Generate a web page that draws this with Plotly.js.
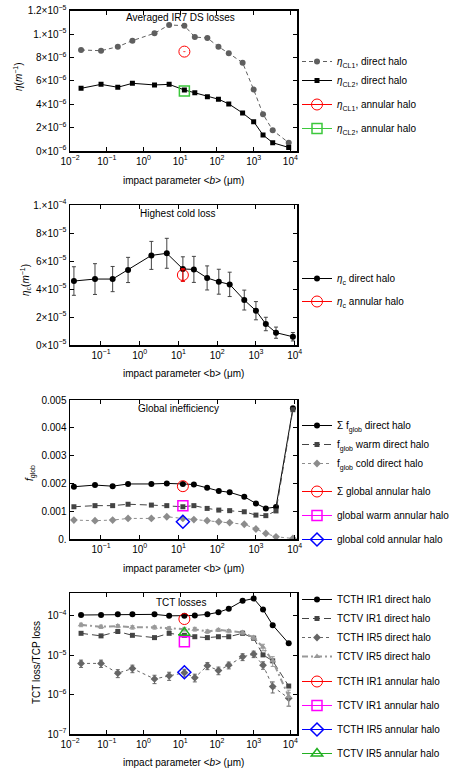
<!DOCTYPE html>
<html>
<head>
<meta charset="utf-8">
<script src="https://cdn.plot.ly/plotly-3.0.1.min.js"></script>
<style>
  html, body { margin: 0; padding: 0; background: white; }
</style>
</head>
<body>
<div id="myDiv1"></div>
<script>
// impact parameter values (um), same for every direct-halo scan
var impactParam = [0.02, 0.07, 0.2, 0.5, 2, 5, 13, 25, 55, 110, 210, 500, 1000, 1800, 3300, 9000];
var annularB = [13];

// PLOT 1 - averaged IR7 DS losses
var etaCL1Direct = [8.64e-6, 8.58e-6, 8.92e-6, 9.44e-6, 10.07e-6, 10.78e-6, 10.72e-6, 9.75e-6, 9.66e-6, 8.92e-6, 8.36e-6, 7.55e-6, 5.25e-6, 3.15e-6, 1.77e-6, 0.71e-6];
var etaCL2Direct = [5.36e-6, 5.70e-6, 5.45e-6, 5.79e-6, 5.65e-6, 5.70e-6, 5.22e-6, 4.99e-6, 4.65e-6, 4.43e-6, 4.03e-6, 3.25e-6, 2.51e-6, 1.37e-6, 0.71e-6, 0.30e-6];
var etaCL1Annular = [8.5e-6];
var etaCL2Annular = [5.13e-6];

// PLOT 2 - highest cold loss
var etaCDirect = [4.57e-5, 4.71e-5, 4.71e-5, 5.36e-5, 6.40e-5, 6.55e-5, 5.43e-5, 5.40e-5, 4.79e-5, 4.52e-5, 4.33e-5, 3.21e-5, 2.45e-5, 1.50e-5, 0.88e-5, 0.59e-5];
var etaCErr = [1.02e-5, 1.10e-5, 0.90e-5, 0.90e-5, 1.00e-5, 1.07e-5, 0.87e-5, 0.93e-5, 0.86e-5, 0.89e-5, 0.87e-5, 0.71e-5, 0.65e-5, 0.48e-5, 0.40e-5, 0.30e-5];
var etaCAnnular = [5.0e-5];
var etaCAnnularErr = [0.45e-5];

// PLOT 3 - global inefficiency
var fglobSum = [1.88e-3, 1.94e-3, 1.90e-3, 1.98e-3, 1.98e-3, 2.00e-3, 1.98e-3, 1.96e-3, 1.84e-3, 1.73e-3, 1.68e-3, 1.52e-3, 1.28e-3, 1.10e-3, 1.15e-3, 4.70e-3];
var fglobWarm = [1.16e-3, 1.20e-3, 1.20e-3, 1.25e-3, 1.22e-3, 1.20e-3, 1.16e-3, 1.20e-3, 1.10e-3, 1.04e-3, 1.02e-3, 0.98e-3, 0.86e-3, 0.84e-3, 1.01e-3, 4.65e-3];
var fglobCold = [0.68e-3, 0.66e-3, 0.68e-3, 0.74e-3, 0.74e-3, 0.80e-3, 0.74e-3, 0.70e-3, 0.66e-3, 0.62e-3, 0.59e-3, 0.53e-3, 0.36e-3, 0.20e-3, 0.08e-3, 0.02e-3];
var fglobSumAnnular = [1.90e-3];
var fglobWarmAnnular = [1.20e-3];
var fglobColdAnnular = [0.62e-3];

// PLOT 4 - TCT losses
var tcthIR1 = [1.05e-4, 1.05e-4, 1.09e-4, 1.09e-4, 1.09e-4, 1.00e-4, 1.00e-4, 1.02e-4, 1.09e-4, 1.23e-4, 1.52e-4, 2.40e-4, 2.75e-4, 1.45e-4, 5.8e-5, 2.0e-5];
var tctvIR1 = [3.6e-5, 3.1e-5, 4.0e-5, 3.2e-5, 2.8e-5, 3.6e-5, 3.2e-5, 2.95e-5, 2.8e-5, 2.95e-5, 2.95e-5, 3.6e-5, 2.7e-5, 1.02e-5, 7.2e-6, 1.65e-6];
var tcthIR5 = [6.2e-6, 6.2e-6, 3.5e-6, 4.6e-6, 2.5e-6, 3.0e-6, 3.6e-6, 2.7e-6, 5.4e-6, 4.1e-6, 5.6e-6, 9.1e-6, 1.07e-5, 5.6e-6, 1.6e-6, 8.1e-7];
var tcthIR5Err = [1.3e-6, 1.3e-6, 0.8e-6, 1.0e-6, 0.6e-6, 0.7e-6, 0.8e-6, 0.6e-6, 1.1e-6, 0.9e-6, 1.1e-6, 1.8e-6, 2.0e-6, 1.2e-6, 0.5e-6, 0.3e-6];
var tctvIR5 = [5.9e-5, 5.3e-5, 5.5e-5, 5.1e-5, 5.1e-5, 4.8e-5, 4.6e-5, 4.6e-5, 4.0e-5, 4.4e-5, 4.1e-5, 3.8e-5, 2.8e-5, 1.6e-5, 7.2e-6, 9e-7];
var tctvIR5Err = [0.6e-5, 0.5e-5, 0.5e-5, 0.5e-5, 0.5e-5, 0.5e-5, 0.5e-5, 0.5e-5, 0.4e-5, 0.4e-5, 0.4e-5, 0.4e-5, 0.3e-5, 0.3e-5, 2.0e-6, 4e-7];
var tcthIR1Annular = [8.3e-5];
var tctvIR1Annular = [2.2e-5];
var tcthIR5Annular = [3.7e-6];
var tctvIR5Annular = [3.7e-5];

// tick labels
var logTickVals = [0.01, 0.1, 1, 10, 100, 1000, 10000];
var logTickText = ["10<sup>−2</sup>", "10<sup>−1</sup>", "10<sup>0</sup>", "10<sup>1</sup>", "10<sup>2</sup>", "10<sup>3</sup>", "10<sup>4</sup>"];
var y1TickVals = [0, 2e-6, 4e-6, 6e-6, 8e-6, 1e-5, 1.2e-5];
var y1TickText = ["0×10<sup>−6</sup>", "2×10<sup>−6</sup>", "4×10<sup>−6</sup>", "6×10<sup>−6</sup>", "8×10<sup>−6</sup>", "1.×10<sup>−5</sup>", "1.2×10<sup>−5</sup>"];
var y2TickVals = [0, 2e-5, 4e-5, 6e-5, 8e-5, 1e-4];
var y2TickText = ["0×10<sup>−5</sup>", "2×10<sup>−5</sup>", "4×10<sup>−5</sup>", "6×10<sup>−5</sup>", "8×10<sup>−5</sup>", "1.×10<sup>−4</sup>"];
var y3TickVals = [0, 0.001, 0.002, 0.003, 0.004, 0.005];
var y3TickText = ["0.", "0.001", "0.002", "0.003", "0.004", "0.005"];
var y4TickVals = [1e-7, 1e-6, 1e-5, 1e-4];
var y4TickText = ["10<sup>−7</sup>", "10<sup>−6</sup>", "10<sup>−5</sup>", "10<sup>−4</sup>"];

var W = 463, H = 776;
function px(v) { return v / W; }
function py(v) { return 1 - v / H; }

var data = [
  // plot 1
  {
    x: impactParam, y: etaCL1Direct, xaxis: "x", yaxis: "y", legend: "legend",
    name: "<i>η</i><sub>CL1</sub>, direct halo",
    mode: "lines+markers",
    line: { color: "#5f5f5f", width: 1, dash: "4px,3px" },
    marker: { symbol: "circle", size: 6, color: "#5f5f5f" },
  },
  {
    x: impactParam, y: etaCL2Direct, xaxis: "x", yaxis: "y", legend: "legend",
    name: "<i>η</i><sub>CL2</sub>, direct halo",
    mode: "lines+markers",
    line: { color: "black", width: 1 },
    marker: { symbol: "square", size: 5, color: "black" },
  },
  {
    x: annularB, y: etaCL1Annular, xaxis: "x", yaxis: "y", legend: "legend2",
    name: "<i>η</i><sub>CL1</sub>, annular halo", legendgroup: "a3",
    mode: "lines+markers",
    line: { color: "red", width: 1 },
    marker: { symbol: "circle-open-dot", size: 11, color: "red", line: { width: 1 } },
  },
  {
    x: annularB, y: etaCL2Annular, xaxis: "x", yaxis: "y", legend: "legend2",
    name: "<i>η</i><sub>CL2</sub>, annular halo", legendgroup: "a4",
    mode: "lines+markers",
    line: { color: "#3cc83c", width: 1 },
    marker: { symbol: "square-open", size: 10, color: "#3cc83c", line: { width: 1.5 } },
  },
  // plot 2
  {
    x: impactParam, y: etaCDirect, xaxis: "x2", yaxis: "y2", legend: "legend3",
    name: "<i>η</i><sub>c</sub> direct halo",
    mode: "lines+markers",
    line: { color: "black", width: 1 },
    marker: { symbol: "circle", size: 6, color: "black" },
    error_y: { type: "data", array: etaCErr, color: "#444", thickness: 1, width: 2 },
  },
  {
    x: annularB, y: etaCAnnular, xaxis: "x2", yaxis: "y2", legend: "legend4",
    name: "<i>η</i><sub>c</sub> annular halo",
    mode: "lines+markers",
    line: { color: "red", width: 1 },
    marker: { symbol: "circle-open", size: 11, color: "red", line: { width: 1 } },
    error_y: { type: "data", array: etaCAnnularErr, color: "red", thickness: 1, width: 2 },
  },
  // plot 3
  {
    x: impactParam, y: fglobSum, xaxis: "x3", yaxis: "y3", legend: "legend5",
    name: "Σ f<sub>glob</sub> direct halo",
    mode: "lines+markers",
    line: { color: "black", width: 1 },
    marker: { symbol: "circle", size: 6, color: "black" },
  },
  {
    x: impactParam, y: fglobWarm, xaxis: "x3", yaxis: "y3", legend: "legend5",
    name: "f<sub>glob</sub> warm direct halo",
    mode: "lines+markers",
    line: { color: "#444", width: 1, dash: "7px,4px" },
    marker: { symbol: "square", size: 5, color: "#444" },
  },
  {
    x: impactParam, y: fglobCold, xaxis: "x3", yaxis: "y3", legend: "legend5",
    name: "f<sub>glob</sub> cold direct halo",
    mode: "lines+markers",
    line: { color: "#8c8c8c", width: 1, dash: "3px,3px" },
    marker: { symbol: "diamond", size: 6, color: "#8c8c8c" },
  },
  {
    x: annularB, y: fglobSumAnnular, xaxis: "x3", yaxis: "y3", legend: "legend6",
    name: "Σ global annular halo", legendgroup: "c4",
    mode: "lines+markers",
    line: { color: "red", width: 1 },
    marker: { symbol: "circle-open", size: 11, color: "red", line: { width: 1 } },
  },
  {
    x: annularB, y: fglobWarmAnnular, xaxis: "x3", yaxis: "y3", legend: "legend6",
    name: "global warm annular halo", legendgroup: "c5",
    mode: "lines+markers",
    line: { color: "magenta", width: 1 },
    marker: { symbol: "square-open", size: 10, color: "magenta", line: { width: 1.5 } },
  },
  {
    x: annularB, y: fglobColdAnnular, xaxis: "x3", yaxis: "y3", legend: "legend6",
    name: "global cold annular halo", legendgroup: "c6",
    mode: "lines+markers",
    line: { color: "blue", width: 1 },
    marker: { symbol: "diamond-open", size: 10, color: "blue", line: { width: 1.5 } },
  },
  // plot 4
  {
    x: impactParam, y: tcthIR1, xaxis: "x4", yaxis: "y4", legend: "legend7",
    name: "TCTH IR1 direct halo",
    mode: "lines+markers",
    line: { color: "black", width: 1 },
    marker: { symbol: "circle", size: 6, color: "black" },
  },
  {
    x: impactParam, y: tctvIR1, xaxis: "x4", yaxis: "y4", legend: "legend7",
    name: "TCTV IR1 direct halo",
    mode: "lines+markers",
    line: { color: "#444", width: 1, dash: "7px,4px" },
    marker: { symbol: "square", size: 5, color: "#444" },
  },
  {
    x: impactParam, y: tcthIR5, xaxis: "x4", yaxis: "y4", legend: "legend7",
    name: "TCTH IR5 direct halo",
    mode: "lines+markers",
    line: { color: "#666", width: 1, dash: "3px,3px" },
    marker: { symbol: "diamond", size: 6, color: "#666" },
    error_y: { type: "data", array: tcthIR5Err, color: "#666", thickness: 1, width: 2 },
  },
  {
    x: impactParam, y: tctvIR5, xaxis: "x4", yaxis: "y4", legend: "legend7",
    name: "TCTV IR5 direct halo",
    mode: "lines+markers",
    line: { color: "#999", width: 2, dash: "6px,3px,2px,3px" },
    marker: { symbol: "triangle-up", size: 6, color: "#999" },
    error_y: { type: "data", array: tctvIR5Err, color: "#999", thickness: 1, width: 2 },
  },
  {
    x: annularB, y: tcthIR1Annular, xaxis: "x4", yaxis: "y4", legend: "legend8",
    name: "TCTH IR1 annular halo", legendgroup: "d5",
    mode: "lines+markers",
    line: { color: "red", width: 1 },
    marker: { symbol: "circle-open", size: 11, color: "red", line: { width: 1 } },
  },
  {
    x: annularB, y: tctvIR1Annular, xaxis: "x4", yaxis: "y4", legend: "legend8",
    name: "TCTV IR1 annular halo", legendgroup: "d6",
    mode: "lines+markers",
    line: { color: "magenta", width: 1 },
    marker: { symbol: "square-open", size: 10, color: "magenta", line: { width: 1.5 } },
  },
  {
    x: annularB, y: tcthIR5Annular, xaxis: "x4", yaxis: "y4", legend: "legend8",
    name: "TCTH IR5 annular halo", legendgroup: "d7",
    mode: "lines+markers",
    line: { color: "blue", width: 1 },
    marker: { symbol: "diamond-open", size: 10, color: "blue", line: { width: 1.5 } },
  },
  {
    x: annularB, y: tctvIR5Annular, xaxis: "x4", yaxis: "y4", legend: "legend8",
    name: "TCTV IR5 annular halo", legendgroup: "d8",
    mode: "lines+markers",
    line: { color: "#22b022", width: 1 },
    marker: { symbol: "triangle-up-open", size: 10, color: "#22b022", line: { width: 1.5 } },
  },
];

var font = "Liberation Sans, Arial, sans-serif";

function axis(extra) {
  var a = {
    showline: true, linewidth: 1.5, linecolor: "black", mirror: "ticks",
    ticks: "inside", ticklen: 4, tickwidth: 1, tickcolor: "black",
    showgrid: false, zeroline: false, fixedrange: true,
    tickfont: { family: font, size: 10, color: "black" },
  };
  for (var k in extra) a[k] = extra[k];
  return a;
}

// legend top is ~13px above the centre of its first item
function legendAt(firstItem, gap) {
  return {
    x: px(297), y: py(firstItem - 13), xanchor: "left", yanchor: "top",
    bgcolor: "rgba(0,0,0,0)", font: { family: font, size: 10, color: "black" },
    tracegroupgap: gap, itemclick: false, itemdoubleclick: false,
  };
}

function label(text, x, y, angle) {
  return {
    text: text, x: px(x), y: py(y), xref: "paper", yref: "paper",
    showarrow: false, textangle: angle || 0,
    font: { family: font, size: 10, color: "black" },
    xanchor: "center", yanchor: "middle",
  };
}

var xdom = [px(70), px(297)];

var layout = {
  width: W, height: H,
  margin: { l: 0, r: 0, t: 0, b: 0 },
  paper_bgcolor: "white", plot_bgcolor: "white",
  font: { family: font, size: 10, color: "black" },
  showlegend: true,
  xaxis: axis({ type: "log", domain: xdom, anchor: "y", range: [-2, 4.18], tickvals: logTickVals, ticktext: logTickText }),
  yaxis: axis({ domain: [py(151), py(10.7)], anchor: "x", range: [0, 1.2e-5], tickvals: y1TickVals, ticktext: y1TickText }),
  xaxis2: axis({ type: "log", domain: xdom, anchor: "y2", range: [-1.8, 4.06], tickvals: logTickVals, ticktext: logTickText }),
  yaxis2: axis({ domain: [py(345), py(205)], anchor: "x2", range: [0, 1e-4], tickvals: y2TickVals, ticktext: y2TickText }),
  xaxis3: axis({ type: "log", domain: xdom, anchor: "y3", range: [-1.8, 4.06], tickvals: logTickVals, ticktext: logTickText }),
  yaxis3: axis({ domain: [py(539), py(400)], anchor: "x3", range: [0, 0.005], tickvals: y3TickVals, ticktext: y3TickText }),
  xaxis4: axis({ type: "log", domain: xdom, anchor: "y4", range: [-2, 4.18], tickvals: logTickVals, ticktext: logTickText }),
  yaxis4: axis({ type: "log", domain: [py(734), py(593)], anchor: "x4", range: [-7, -3.42], tickvals: y4TickVals, ticktext: y4TickText }),
  legend: legendAt(60, 0),
  legend2: legendAt(103, 5),
  legend3: legendAt(277, 0),
  legend4: legendAt(300, 0),
  legend5: legendAt(424, 0),
  legend6: legendAt(490, 5),
  legend7: legendAt(598, 0),
  legend8: legendAt(680, 5),
  annotations: [
    label("Averaged IR7 DS losses", 180, 17),
    label("Highest cold loss", 178, 213),
    label("Global inefficiency", 178, 408),
    label("TCT losses", 181, 602),
    label("impact parameter <i>&lt;b&gt;</i> (μm)", 183, 180),
    label("impact parameter &lt;b&gt; (μm)", 183, 373),
    label("impact parameter &lt;b&gt; (μm)", 183, 568),
    label("impact parameter <i>&lt;b&gt;</i> (μm)", 183, 762),
    label("<i>η</i>(<i>m</i><sup>−1</sup>)", 18, 77, -90),
    label("<i>η</i><sub>c</sub>(<i>m</i><sup>−1</sup>)", 25, 280, -90),
    label("<i>f</i><sub>glob</sub>", 30, 473, -90),
    label("TCT loss/TCP loss", 36, 663, -90),
  ],
};

var config = { responsive: false, displayModeBar: false, staticPlot: true };

Plotly.newPlot("myDiv1", data, layout, config);
</script>
</body>
</html>
